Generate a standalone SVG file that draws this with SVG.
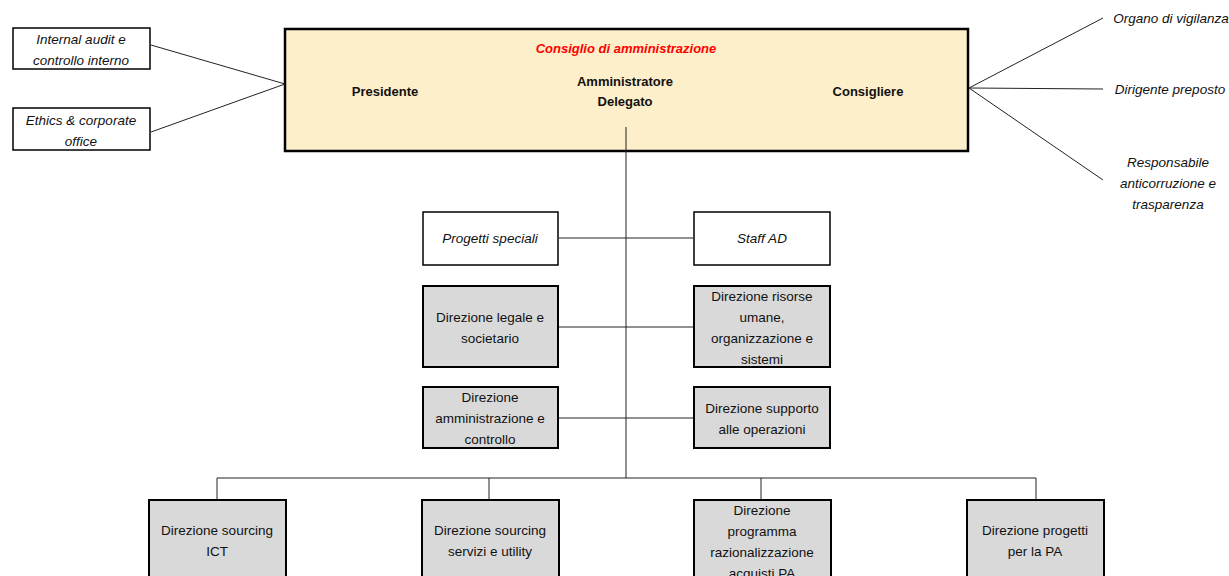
<svg xmlns="http://www.w3.org/2000/svg" width="1229" height="576" viewBox="0 0 1229 576">
<style>
text{font-family:"Liberation Sans",Arial,sans-serif;font-size:13.5px;fill:#111;text-anchor:middle}
.it{font-style:italic}
.b{font-weight:bold;font-size:13px}
.red{fill:#ff0000;font-weight:bold;font-style:italic;font-size:13px}
.wbox{fill:#fff;stroke:#000;stroke-width:1.5}
.gbox{fill:#d9d9d9;stroke:#000;stroke-width:2}
.ybox{fill:#fdefc9;stroke:#000;stroke-width:2.5}
.conn line,.conn polyline{stroke:#222;stroke-width:1;fill:none}
</style>
<rect width="1229" height="576" fill="#fff"/>
<g id="internal-audit">
<rect class="wbox" x="13" y="28" width="137" height="41"/>
<text class="it" x="81" y="44">Internal audit e</text>
<text class="it" x="81" y="65">controllo interno</text>
</g>
<g id="ethics">
<rect class="wbox" x="13" y="108" width="137" height="42"/>
<text class="it" x="81" y="125">Ethics &amp; corporate</text>
<text class="it" x="81" y="146">office</text>
</g>
<g id="cda">
<rect class="ybox" x="285" y="29" width="683" height="122"/>
<text class="red" x="626" y="53">Consiglio di amministrazione</text>
<text class="b" x="385" y="96">Presidente</text>
<text class="b" x="625" y="86">Amministratore</text>
<text class="b" x="625" y="106">Delegato</text>
<text class="b" x="868" y="96">Consigliere</text>
</g>
<g id="organo">
<text class="it" x="1171" y="23">Organo di vigilanza</text>
</g>
<g id="dirigente">
<text class="it" x="1170" y="94">Dirigente preposto</text>
</g>
<g id="responsabile">
<text class="it" x="1168" y="167">Responsabile</text>
<text class="it" x="1168" y="188">anticorruzione e</text>
<text class="it" x="1168" y="209">trasparenza</text>
</g>
<g id="progetti-speciali">
<rect class="wbox" x="423" y="212" width="135" height="53"/>
<text class="it" x="490" y="243">Progetti speciali</text>
</g>
<g id="staff-ad">
<rect class="wbox" x="694" y="212" width="136" height="53"/>
<text class="it" x="762" y="243">Staff AD</text>
</g>
<g id="legale">
<rect class="gbox" x="423" y="286" width="135" height="81"/>
<text x="490" y="322">Direzione legale e</text>
<text x="490" y="343">societario</text>
</g>
<g id="risorse">
<rect class="gbox" x="694" y="286" width="136" height="81"/>
<text x="762" y="301">Direzione risorse</text>
<text x="762" y="322">umane,</text>
<text x="762" y="343">organizzazione e</text>
<text x="762" y="364">sistemi</text>
</g>
<g id="amministrazione">
<rect class="gbox" x="423" y="387" width="135" height="61"/>
<text x="490" y="402">Direzione</text>
<text x="490" y="423">amministrazione e</text>
<text x="490" y="444">controllo</text>
</g>
<g id="supporto">
<rect class="gbox" x="694" y="387" width="136" height="61"/>
<text x="762" y="413">Direzione supporto</text>
<text x="762" y="434">alle operazioni</text>
</g>
<g id="sourcing-ict">
<rect class="gbox" x="149" y="500" width="137" height="90"/>
<text x="217" y="535">Direzione sourcing</text>
<text x="217" y="556">ICT</text>
</g>
<g id="sourcing-servizi">
<rect class="gbox" x="422" y="500" width="137" height="90"/>
<text x="490" y="535">Direzione sourcing</text>
<text x="490" y="556">servizi e utility</text>
</g>
<g id="programma">
<rect class="gbox" x="694" y="500" width="137" height="90"/>
<text x="762" y="515">Direzione</text>
<text x="762" y="536">programma</text>
<text x="762" y="557">razionalizzazione</text>
<text x="762" y="578">acquisti PA</text>
</g>
<g id="progetti-pa">
<rect class="gbox" x="967" y="500" width="137" height="90"/>
<text x="1035" y="535">Direzione progetti</text>
<text x="1035" y="556">per la PA</text>
</g>
<g class="conn">
<line x1="151" y1="45" x2="285" y2="84"/>
<line x1="151" y1="132" x2="285" y2="84"/>
<line x1="969" y1="88" x2="1103" y2="18"/>
<line x1="969" y1="88" x2="1103" y2="89"/>
<line x1="969" y1="88" x2="1103" y2="180"/>
<line x1="626" y1="127" x2="626" y2="478"/>
<line x1="559" y1="238" x2="693" y2="238"/>
<line x1="559" y1="327" x2="693" y2="327"/>
<line x1="559" y1="418" x2="693" y2="418"/>
<polyline points="217,499 217,478 1036,478 1036,499"/>
<line x1="489" y1="478" x2="489" y2="499"/>
<line x1="761" y1="478" x2="761" y2="499"/>
</g>
</svg>
